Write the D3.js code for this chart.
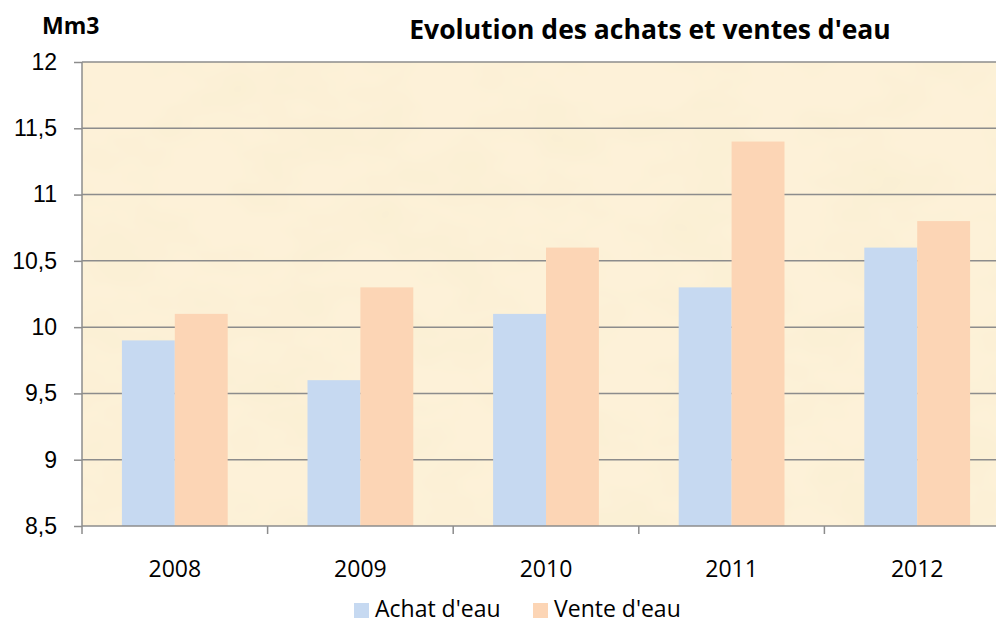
<!DOCTYPE html>
<meta charset="utf-8">
<style>
body { margin: 0; background: #fff; }
svg { font-family: "Open Sans", sans-serif; font-variant-numeric: tabular-nums; }
.grid line { stroke: #8c8c8c; stroke-width: 1.5px; }
.axis path, .axis line { stroke: #8c8c8c; stroke-width: 1.5px; }
.axis text { fill: #000; font-size: 23px; }
</style>
<body>
<script src="https://d3js.org/d3.v7.min.js"></script>
<script>
// data
var years = ["2008", "2009", "2010", "2011", "2012"];
var achat = [9.9, 9.6, 10.1, 10.3, 10.6];
var vente = [10.1, 10.3, 10.6, 11.4, 10.8];
var seriesNames = ["Achat d'eau", "Vente d'eau"];
var colors = ["#c6d9f1", "#fcd5b5"];
var yTicks = [8.5, 9, 9.5, 10, 10.5, 11, 11.5, 12];

var W = 996, H = 624;
var margin = {top: 62, left: 82, bottom: 98, right: -14};
var width = W - margin.left - margin.right,
    height = H - margin.top - margin.bottom;

var svg = d3.select("body").append("svg")
    .attr("width", W).attr("height", H);

// parchment-ish texture
var defs = svg.append("defs");
var f = defs.append("filter").attr("id", "paper")
    .attr("x", 0).attr("y", 0).attr("width", "100%").attr("height", "100%");
f.append("feTurbulence").attr("type", "fractalNoise")
    .attr("baseFrequency", "0.012 0.02").attr("numOctaves", 3).attr("seed", 4);
f.append("feColorMatrix").attr("type", "matrix")
    .attr("values", "0 0 0 0 0.93  0 0 0 0 0.85  0 0 0 0 0.62  0 0 0 0.9 -0.32");
defs.append("clipPath").attr("id", "clip").append("rect")
    .attr("width", W).attr("height", H);

var g = svg.append("g")
    .attr("clip-path", "url(#clip)")
  .append("g")
    .attr("transform", "translate(" + margin.left + "," + margin.top + ")");

var x0 = d3.scaleBand().domain(years).range([0, width]).paddingInner(0.43).paddingOuter(0.215);
var xCat = d3.scaleBand().domain(years).range([0, width]);
var x1 = d3.scaleBand().domain(seriesNames).range([0, x0.bandwidth()]);
var y = d3.scaleLinear().domain([8.5, 12]).range([height, 0]);

g.append("rect").attr("width", width).attr("height", height).attr("fill", "#fdf1d8");
g.append("rect").attr("width", width).attr("height", height).attr("filter", "url(#paper)");

// gridlines
g.append("g").attr("class", "grid")
  .selectAll("line").data(yTicks.slice(1)).enter().append("line")
    .attr("x1", 0).attr("x2", width)
    .attr("y1", function(d) { return y(d); })
    .attr("y2", function(d) { return y(d); });

// bars
var data = years.map(function(yr, i) { return {year: yr, values: [achat[i], vente[i]]}; });
var grp = g.selectAll(".year").data(data).enter().append("g")
    .attr("transform", function(d) { return "translate(" + x0(d.year) + ",0)"; });
grp.selectAll("rect").data(function(d) { return d.values; }).enter().append("rect")
    .attr("x", function(d, i) { return x1(seriesNames[i]); })
    .attr("width", x1.bandwidth())
    .attr("y", function(d) { return y(d); })
    .attr("height", function(d) { return height - y(d); })
    .attr("fill", function(d, i) { return colors[i]; });

// y axis
var yAxis = g.append("g").attr("class", "axis")
    .call(d3.axisLeft(y).tickValues(yTicks).tickSize(8).tickPadding(17)
      .tickFormat(function(d) { return String(d).replace(".", ","); }));
yAxis.select(".domain").attr("d", "M0,0V" + height);

// x axis
var xAxis = g.append("g").attr("class", "axis")
    .attr("transform", "translate(0," + height + ")");
xAxis.append("line").attr("x1", 0).attr("x2", width);
xAxis.selectAll(".tk").data(years.concat(["end"])).enter().append("line")
    .attr("x1", function(d, i) { return i * xCat.step(); })
    .attr("x2", function(d, i) { return i * xCat.step(); })
    .attr("y1", 0).attr("y2", 8);
xAxis.selectAll("text").data(years).enter().append("text")
    .attr("x", function(d) { return xCat(d) + xCat.bandwidth() / 2; })
    .attr("y", 51)
    .attr("text-anchor", "middle")
    .text(function(d) { return d; });

// titles
svg.append("text").attr("x", 650).attr("y", 39).attr("text-anchor", "middle")
    .style("font-size", "26.5px").style("font-weight", "bold")
    .text("Evolution des achats et ventes d'eau");
svg.append("text").attr("x", 42).attr("y", 34)
    .style("font-size", "23px").style("font-weight", "bold")
    .text("Mm3");

// legend
var legX = [354, 533];
var leg = svg.selectAll(".leg").data(seriesNames).enter().append("g")
    .attr("transform", function(d, i) { return "translate(" + legX[i] + ",603)"; });
leg.append("rect").attr("width", 15).attr("height", 15)
    .attr("fill", function(d, i) { return colors[i]; });
leg.append("text").attr("x", 21).attr("y", 14).style("font-size", "23px")
    .text(function(d) { return d; });
</script>
</body>
